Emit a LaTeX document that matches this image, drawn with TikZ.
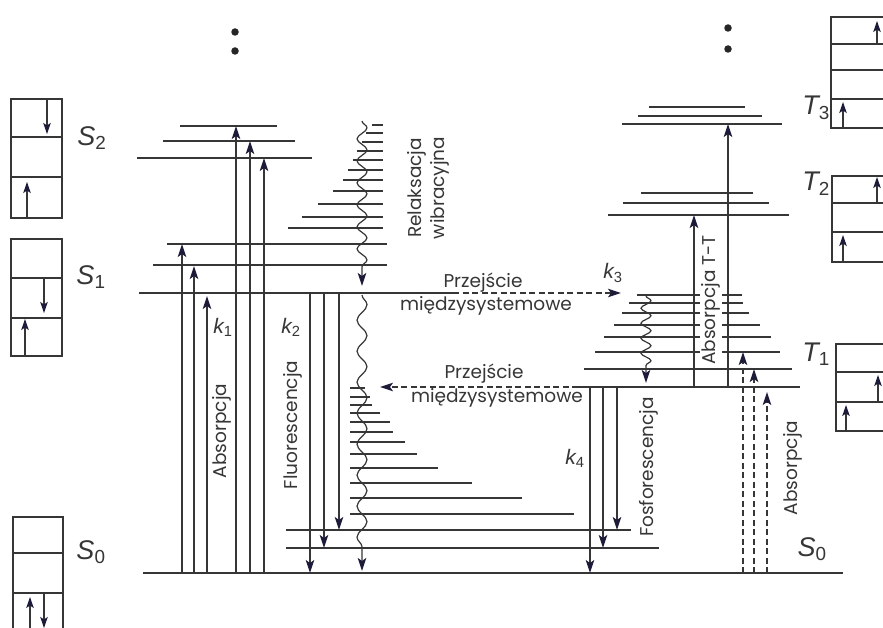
\documentclass[tikz,border=0pt]{standalone}
\usepackage{fontspec}
\setmainfont{Poppins}
\newfontfamily\lf{Liberation Sans}
\usetikzlibrary{arrows.meta,decorations.pathmorphing}
\definecolor{ln}{HTML}{363636}
\definecolor{tipc}{HTML}{1C1C3A}
\tikzset{
 x=1pt,y=-1pt,
 lvl/.style={draw=ln,line width=1.5pt},
 arr/.style={draw=ln,line width=1.25pt,-{Stealth[length=13pt,width=8.5pt,inset=3pt,color=tipc]}},
 darr/.style={arr,dash pattern=on 6pt off 3.5pt},
 wav/.style={draw=ln,line width=1.2pt,decorate,decoration={snake,amplitude=5pt,segment length=#1,post length=11pt},-{Stealth[length=13pt,width=8.5pt,inset=3pt,color=tipc]}},
 boxc/.style={draw=ln,line width=1.3pt},
 barr/.style={draw=ln,line width=1.2pt,-{Stealth[length=11pt,width=7.5pt,inset=2.5pt,color=tipc]}},
 txt/.style={font=\fontsize{18.5}{23}\selectfont,text=ln,inner sep=0pt},
 rtxt/.style={txt,rotate=90},
 slab/.style={font=\lf\fontsize{27}{27}\selectfont\itshape,text=ln,inner sep=0pt},
 klab/.style={font=\lf\fontsize{21}{21}\selectfont\itshape,text=ln,inner sep=0pt},
 dotn/.style={circle,fill=black!85,inner sep=0pt,minimum size=7.5pt},
}
\begin{document}
\begin{tikzpicture}
\useasboundingbox (0,0) rectangle (883,628);
\clip (0,0) rectangle (883,628);

% ---- dots
\node[dotn] (dA) at (235,32) {};
\node[dotn] (dB) at (235,51) {};
\node[dotn] (dC) at (728,28) {};
\node[dotn] (dD) at (728,49) {};

% ---- S2 levels
\draw[lvl] (180,126) -- (277,126);
\draw[lvl] (163,141) -- (295,141);
\draw[lvl] (137,158) -- (312,158);
\foreach \y/\x in {125/372,133/366,142/362,151/357,160/353,170/348,180/343,191/333,204/318,217/302,228/288}
  \draw[lvl] (\x,\y) -- (383,\y);
% ---- S1 levels
\draw[lvl] (167,244) -- (387,244);
\draw[lvl] (153,265) -- (387,265);
\coordinate (s1L) at (139,293);
\coordinate (s1R) at (453,293);
\draw[lvl] (s1L) -- (s1R);
% ---- S0 levels
\draw[lvl] (143,573) -- (843,573);
\draw[lvl] (286,548) -- (659,548);
\draw[lvl] (286,530) -- (631,530);
\foreach \y/\x in {388/365,397/370,405/372,413/380,422/390,432/393,442/405,454/417,468/438,483/472,498/522,514/574}
  \draw[lvl] (350,\y) -- (\x,\y);
% ---- T3, T2
\draw[lvl] (649,107) -- (745,107);
\draw[lvl] (638,116) -- (762,116);
\draw[lvl] (622,124) -- (782,124);
\draw[lvl] (641,193) -- (753,193);
\draw[lvl] (623,203) -- (769,203);
\draw[lvl] (608,215) -- (789,215);
% ---- T1
\coordinate (t1L) at (578,387);
\draw[lvl] (t1L) -- (800,387);
\foreach \y/\a/\b in {295/637/742,303/629/743,313/622/749,325/614/760,337/604/771,352/595/780,369/584/792}
  \draw[lvl] (\a,\y) -- (\b,\y);
\node[rtxt,fill=white,inner xsep=2pt,inner ysep=2pt] (tt) at (711,300) {Absorpcja T-T};

% ---- absorption S0 -> S1, S2
\foreach \x/\y [count=\i] in {182/244,194/266,207/296,236/126,250/141,264/158}{
  \coordinate (ab\i s) at (\x,573);
  \coordinate (ab\i e) at (\x,\y);
  \draw[arr] (ab\i s) -- (ab\i e);
}
% ---- fluorescence
\foreach \x/\y [count=\i] in {310/573,324/548,339/530}{
  \coordinate (fl\i s) at (\x,293);
  \coordinate (fl\i e) at (\x,\y);
  \draw[arr] (fl\i s) -- (fl\i e);
}
% ---- phosphorescence
\foreach \x/\y [count=\i] in {590/573,603/548,617/530}{
  \coordinate (ph\i s) at (\x,387);
  \coordinate (ph\i e) at (\x,\y);
  \draw[arr] (ph\i s) -- (ph\i e);
}
% ---- T-T absorption
\coordinate (tt1s) at (694,387); \coordinate (tt1e) at (694,215);
\coordinate (tt2s) at (728,387); \coordinate (tt2e) at (728,124);
\draw[arr] (tt1s) -- (tt1e);
\draw[arr] (tt2s) -- (tt2e);
% ---- S0 -> T1 absorption (dashed)
\foreach \x/\y [count=\i] in {743/352,754/369,767/392}{
  \coordinate (ta\i s) at (\x,573);
  \coordinate (ta\i e) at (\x,\y);
  \draw[darr] (ta\i s) -- (ta\i e);
}
% ---- intersystem crossings
\coordinate (isc1) at (621,293);
\draw[darr] (s1R) -- (isc1);
\coordinate (isc2) at (380,387);
\draw[darr] (t1L) -- (isc2);

% ---- vibrational relaxation
\coordinate (w1s) at (362,121); \coordinate (w1e) at (362,286);
\draw[wav=22pt] (w1s) -- (w1e);
\coordinate (w2s) at (362,295); \coordinate (w2e) at (362,571);
\draw[wav=31pt] (w2s) -- (w2e);
\coordinate (w3s) at (646,296); \coordinate (w3e) at (646,383);
\draw[wav=15pt] (w3s) -- (w3e);

% ---- texts
\node[rtxt,align=center] (rel) at (428,188) {Relaksacja\\wibracyjna};
\node[txt] (p1) at (483,283) {Przejście};
\node[txt] (m1) at (486,306) {międzysystemowe};
\node[txt] (p2) at (484,374) {Przejście};
\node[txt] (m2) at (497,398) {międzysystemowe};
\node[rtxt] (abs1) at (222,431) {Absorpcja};
\node[rtxt] (flu) at (293,425) {Fluorescencja};
\node[rtxt] (fos) at (649,467) {Fosforescencja};
\node[rtxt] (abs2) at (793,468) {Absorpcja};
\node[klab] (k1) at (223,327) {k\textsubscript{\upshape 1}};
\node[klab] (k2) at (291,327) {k\textsubscript{\upshape 2}};
\node[klab] (k3) at (613,273) {k\textsubscript{\upshape 3}};
\node[klab] (k4) at (575,458) {k\textsubscript{\upshape 4}};
\node[slab] (lS2) at (92,138) {S\textsubscript{\upshape 2}};
\node[slab] (lS1) at (91,277) {S\textsubscript{\upshape 1}};
\node[slab] (lS0) at (91,552) {S\textsubscript{\upshape 0}};
\node[slab] (rS0) at (812,549) {S\textsubscript{\upshape 0}};
\node[slab] (lT3) at (816,108) {T\textsubscript{\upshape 3}};
\node[slab] (lT2) at (816,184) {T\textsubscript{\upshape 2}};
\node[slab] (lT1) at (816,354) {T\textsubscript{\upshape 1}};

% ---- left boxes
\draw[boxc] (11,99) rectangle (62,218);
\draw[boxc] (11,137) -- (62,137) (11,177) -- (62,177);
\draw[barr] (47,99) -- (47,134);
\draw[barr] (27,218) -- (27,182);
\draw[boxc] (11,239) rectangle (62,356);
\draw[boxc] (11,278) -- (62,278) (11,318) -- (62,318);
\draw[barr] (44,278) -- (44,313);
\draw[barr] (25,356) -- (25,319);
\draw[boxc] (13,517) rectangle (63,640);
\draw[boxc] (13,553) -- (63,553) (13,593) -- (63,593);
\draw[barr] (30,630) -- (30,597);
\draw[barr] (44,593) -- (44,628);
% ---- right boxes
\draw[boxc] (831,17) rectangle (900,128);
\draw[boxc] (831,44) -- (900,44) (831,70) -- (900,70) (831,99) -- (900,99);
\draw[barr] (877,44) -- (877,21);
\draw[barr] (843,128) -- (843,102);
\draw[boxc] (832,176) rectangle (900,262);
\draw[boxc] (832,203) -- (900,203) (832,232) -- (900,232);
\draw[barr] (877,203) -- (877,177);
\draw[barr] (843,262) -- (843,235);
\draw[boxc] (836,344) rectangle (900,431);
\draw[boxc] (836,372) -- (900,372) (836,402) -- (900,402);
\draw[barr] (878,402) -- (878,375);
\draw[barr] (846,431) -- (846,405);
\end{tikzpicture}
\end{document}
